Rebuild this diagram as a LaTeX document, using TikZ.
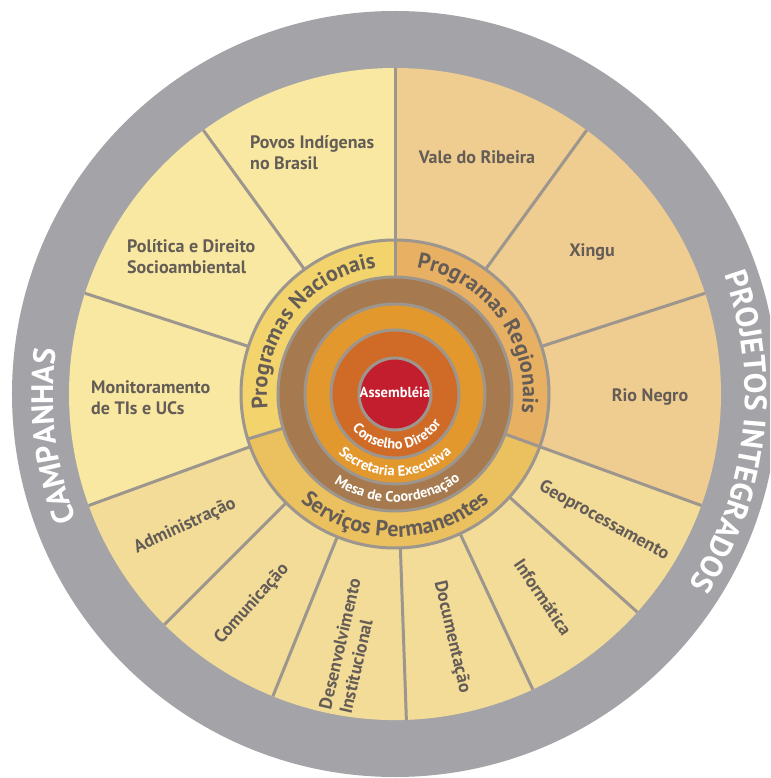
\documentclass[tikz,border=0pt]{standalone}
\usepackage{fontspec}
\setmainfont{PT Sans}
\usetikzlibrary{decorations.text}

\definecolor{bandgray}{HTML}{A4A4A8}
\definecolor{linegray}{HTML}{9C968F}
\definecolor{natfill}{HTML}{F8E8A2}
\definecolor{regfill}{HTML}{EFCC8F}
\definecolor{servfill}{HTML}{F3DC98}
\definecolor{natring}{HTML}{F3D36C}
\definecolor{regring}{HTML}{E8B062}
\definecolor{servring}{HTML}{EBC05E}
\definecolor{mesabrown}{HTML}{A67A4E}
\definecolor{secorange}{HTML}{E3982E}
\definecolor{conorange}{HTML}{D06B27}
\definecolor{assred}{HTML}{C31E2E}
\definecolor{labelgray}{HTML}{645C56}

\newcommand{\labelfont}{\fontsize{18}{21}\selectfont\bfseries}
\newcommand{\ringfont}{\fontsize{22}{26}\selectfont\bfseries}
\newcommand{\corefont}{\fontsize{14.5}{16}\selectfont\bfseries}
\newcommand{\bandfont}{\fontsize{31}{34}\selectfont\bfseries}

\begin{document}
\begin{tikzpicture}[x=1pt, y=1pt,
    lbl/.style={text=labelgray, font=\labelfont, align=left, inner sep=0pt},
    spoke/.style={linegray, line width=3pt},
    rim/.style={draw=linegray, line width=3pt}]
  \useasboundingbox (-395,-384) rectangle (375,394);
  \fill[white] (-395,-384) rectangle (375,394);
  \begin{scope}
    \clip (-395,-384) rectangle (375,394);
    \fill[bandgray] (0,0) circle (383); % outer band
  \end{scope}

  % outer sectors
  \fill[natfill] (0,0) -- (90:326) arc[start angle=90, end angle=200, radius=326] -- cycle;
  \fill[regfill] (0,0) -- (-20:326) arc[start angle=-20, end angle=90, radius=326] -- cycle;
  \fill[servfill] (0,0) -- (200:326) arc[start angle=200, end angle=340, radius=326] -- cycle;

  % spokes
  \draw[spoke] (90:154) -- (90:326);
  \draw[spoke] (126:154) -- (126:326);
  \draw[spoke] (162:154) -- (162:326);
  \draw[spoke] (200:154) -- (200:326);
  \draw[spoke] (54:154) -- (54:326);
  \draw[spoke] (18:154) -- (18:326);
  \draw[spoke] (-20:154) -- (-20:326);
  \draw[spoke] (-42:154) -- (-42:326);
  \draw[spoke] (-65:154) -- (-65:326);
  \draw[spoke] (-88:154) -- (-88:326);
  \draw[spoke] (-112:154) -- (-112:326);
  \draw[spoke] (-135:154) -- (-135:326);

  % programme ring
  \fill[natring] (0,0) -- (90:154) arc[start angle=90, end angle=197, radius=154] -- cycle;
  \fill[regring] (0,0) -- (-20:154) arc[start angle=-20, end angle=90, radius=154] -- cycle;
  \fill[servring] (0,0) -- (197:154) arc[start angle=197, end angle=340, radius=154] -- cycle;
  \draw[rim] (0,0) circle (154);
  \draw[spoke] (90:117) -- (90:154);
  \draw[spoke] (-20:117) -- (-20:154);
  \draw[spoke] (197:117) -- (197:154);

  % core circles
  \filldraw[rim, fill=mesabrown] (0,0) circle (117);
  \filldraw[rim, fill=secorange] (0,0) circle (90);
  \filldraw[rim, fill=conorange] (0,0) circle (64);
  \filldraw[rim, fill=assred] (0,0) circle (36);

  % sector labels
  \node[lbl, anchor=west] (povos) at (-145,241) {Povos Indígenas\\no Brasil};
  \node[lbl, anchor=west] (politica) at (-268,137) {Política e Direito\\Socioambiental};
  \node[lbl, anchor=west] (monit) at (-304,-4) {Monitoramento\\de TIs e UCs};
  \node[lbl] (vale) at (82,237) {Vale do Ribeira};
  \node[lbl] (xingu) at (197,142) {Xingu};
  \node[lbl] (rionegro) at (255,-3) {Rio Negro};
  \node[lbl, rotate=25] (admin) at (-210,-132) {Administração};
  \node[lbl, rotate=48] (comunic) at (-143,-210) {Comunicação};
  \node[lbl, rotate=77] (desenv) at (-45,-252) {Desenvolvimento\\Institucional};
  \node[lbl, rotate=-77] (docum) at (57,-243) {Documentação};
  \node[lbl, rotate=-56] (inform) at (148,-203) {Informática};
  \node[lbl, rotate=-29] (geo) at (209,-127) {Geoprocessamento};

  % ring titles
  \path[decorate, decoration={text along path, text align=center,
      text={|\ringfont\color{labelgray}|Programas Nacionais}}]
    (227.5:128) arc[start angle=227.5, end angle=57.5, radius=128];
  \path[decorate, decoration={text along path, text align=center,
      text={|\ringfont\color{labelgray}|Programas Regionais}}]
    (121:128) arc[start angle=121, end angle=-49, radius=128];
  \path[decorate, decoration={text along path, text align=center,
      text={|\ringfont\color{labelgray}|Serviços Permanentes}}]
    (185:143) arc[start angle=185, end angle=355, radius=143];

  % core titles
  \node[text=white, font=\corefont] (assembleia) at (0,2) {Assembléia};
  \path[decorate, decoration={text along path, text align=center,
      text={|\corefont\color{white}|Conselho Diretor}}]
    (183:55) arc[start angle=183, end angle=363, radius=55];
  \path[decorate, decoration={text along path, text align=center,
      text={|\corefont\color{white}|Secretaria Executiva}}]
    (180:82) arc[start angle=180, end angle=360, radius=82];
  \path[decorate, decoration={text along path, text align=center,
      text={|\corefont\color{white}|Mesa de Coordenação}}]
    (181:108) arc[start angle=181, end angle=362, radius=108];

  % band titles
  \path[decorate, decoration={text along path, text align=center,
      text={|\bandfont\color{white}|CAMPANHAS}}]
    (240:342) arc[start angle=240, end angle=134, radius=342];
  \path[decorate, decoration={text along path, text align=center,
      text={|\bandfont\color{white}|PROJETOS INTEGRADOS}}]
    (50:350) arc[start angle=50, end angle=-63, radius=350];
\end{tikzpicture}
\end{document}
